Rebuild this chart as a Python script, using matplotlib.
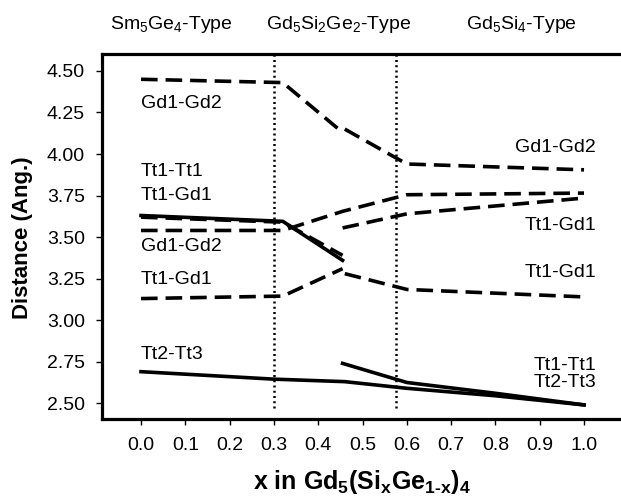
"""
Interatomic distances across the Gd5(SixGe1-x)4 series.

Redraws the distance-vs-composition panel with the three structure-type
regions marked by dotted phase boundaries. Writes out.png.
"""

import matplotlib
matplotlib.use("Agg")
import matplotlib.pyplot as plt
import matplotlib.transforms as mtransforms

plt.rcParams["font.family"] = ["Liberation Sans", "DejaVu Sans"]
plt.rcParams["mathtext.default"] = "regular"

OUTPUT_PATH = "out.png"

# --- data ------------------------------------------------------------------
# Sm5Ge4 / Gd5Si2Ge2 side (x < ~0.46)
GD12_UP_X_A = [0.0, 0.32, 0.455]
GD12_UP_Y_A = [4.45, 4.43, 4.13]
TT11_X_A = [0.0, 0.32, 0.455]
TT11_Y_A = [3.63, 3.595, 3.36]
TT1GD1_UP_X_A = [0.0, 0.32, 0.455]
TT1GD1_UP_Y_A = [3.62, 3.59, 3.39]
TT1GD1_LO_X_A = [0.0, 0.32, 0.455]
TT1GD1_LO_Y_A = [3.13, 3.145, 3.31]

# continuous across the boundary
GD12_LO_X = [0.0, 0.32, 0.455, 0.60, 1.0]
GD12_LO_Y = [3.54, 3.54, 3.655, 3.755, 3.765]
TT23_X = [0.0, 0.30, 0.46, 0.60, 0.80, 1.0]
TT23_Y = [2.69, 2.645, 2.63, 2.59, 2.545, 2.49]

# Gd5Si4 side (x > ~0.46)
GD12_UP_X_B = [0.46, 0.60, 1.0]
GD12_UP_Y_B = [4.15, 3.94, 3.905]
TT1GD1_UP_X_B = [0.455, 0.60, 1.0]
TT1GD1_UP_Y_B = [3.555, 3.64, 3.735]
TT1GD1_LO_X_B = [0.46, 0.60, 1.0]
TT1GD1_LO_Y_B = [3.28, 3.185, 3.14]
TT11_X_B = [0.455, 0.60, 0.80, 1.0]
TT11_Y_B = [2.74, 2.625, 2.56, 2.49]

BOUNDARIES = [0.30, 0.575]

REGION_NAMES = [r"Sm$_5$Ge$_4$-Type", r"Gd$_5$Si$_2$Ge$_2$-Type", r"Gd$_5$Si$_4$-Type"]
REGION_X = [0.068, 0.446, 0.858]

LEFT_LABELS = ["Gd1-Gd2", "Tt1-Tt1", "Tt1-Gd1", "Gd1-Gd2", "Tt1-Gd1", "Tt2-Tt3"]
LEFT_LABEL_Y = [4.305, 3.894, 3.753, 3.442, 3.242, 2.791]
RIGHT_LABELS = ["Gd1-Gd2", "Tt1-Gd1", "Tt1-Gd1", "Tt1-Tt1", "Tt2-Tt3"]
RIGHT_LABEL_Y = [4.040, 3.569, 3.288, 2.728, 2.624]

X_TICKS = [i / 10 for i in range(11)]
Y_TICKS = [2.50, 2.75, 3.00, 3.25, 3.50, 3.75, 4.00, 4.25, 4.50]

LW = 2.6
DASHES = (4.6, 2.2)


def main():
    fig = plt.figure(figsize=(6.21, 5.03), dpi=100)
    ax = fig.add_axes([0.1638, 0.1676, 0.8362, 0.726])

    dashed = [
        (GD12_UP_X_A, GD12_UP_Y_A),
        (GD12_UP_X_B, GD12_UP_Y_B),
        (TT1GD1_UP_X_A, TT1GD1_UP_Y_A),
        (GD12_LO_X, GD12_LO_Y),
        (TT1GD1_UP_X_B, TT1GD1_UP_Y_B),
        (TT1GD1_LO_X_A, TT1GD1_LO_Y_A),
        (TT1GD1_LO_X_B, TT1GD1_LO_Y_B),
    ]
    for xs, ys in dashed:
        ax.plot(xs, ys, color="black", linewidth=LW, dashes=DASHES,
                solid_capstyle="butt", dash_capstyle="butt")

    solid = [(TT11_X_A, TT11_Y_A), (TT23_X, TT23_Y), (TT11_X_B, TT11_Y_B)]
    for xs, ys in solid:
        ax.plot(xs, ys, color="black", linewidth=LW, solid_joinstyle="round")

    for xb in BOUNDARIES:
        ax.axvline(xb, ymin=0.03, ymax=1.0, color="black", linewidth=1.8,
                   linestyle=(0, (0.8, 1.3)))

    for txt, y in zip(LEFT_LABELS, LEFT_LABEL_Y):
        ax.text(0.0, y, txt, ha="left", va="center", fontsize=14)
    for txt, y in zip(RIGHT_LABELS, RIGHT_LABEL_Y):
        ax.text(1.027, y, txt, ha="right", va="center", fontsize=14)

    trans = mtransforms.blended_transform_factory(ax.transData, ax.transAxes)
    for txt, xc in zip(REGION_NAMES, REGION_X):
        ax.text(xc, 1.066, txt, transform=trans, ha="center", va="baseline",
                fontsize=14, clip_on=False)

    ax.set_xlim(-0.0887, 1.0835)
    ax.set_ylim(2.407, 4.605)
    ax.set_xticks(X_TICKS)
    ax.set_xticklabels([f"{v:.1f}" for v in X_TICKS])
    ax.set_yticks(Y_TICKS)
    ax.set_yticklabels([f"{v:.2f}" for v in Y_TICKS])
    ax.tick_params(axis="x", direction="out", length=4, width=1, pad=9,
                   labelsize=14)
    ax.tick_params(axis="y", direction="out", length=4, width=1, pad=8,
                   labelsize=14)

    for side in ("left", "bottom", "top"):
        ax.spines[side].set_linewidth(2.3)
    ax.spines["right"].set_visible(False)

    # U+2010 keeps the short text hyphen inside the subscript
    ax.set_xlabel("x in Gd$_5$(Si$_x$Ge$_{1\u2010x}$)$_4$", fontsize=18,
                  fontweight="bold")
    ax.xaxis.set_label_coords(0.502, -0.135)
    ax.set_ylabel("Distance (Ang.)", fontsize=16, fontweight="bold")
    ax.yaxis.set_label_coords(-0.132, 0.497)

    fig.savefig(OUTPUT_PATH, dpi=100)
    plt.close(fig)


if __name__ == "__main__":
    main()
